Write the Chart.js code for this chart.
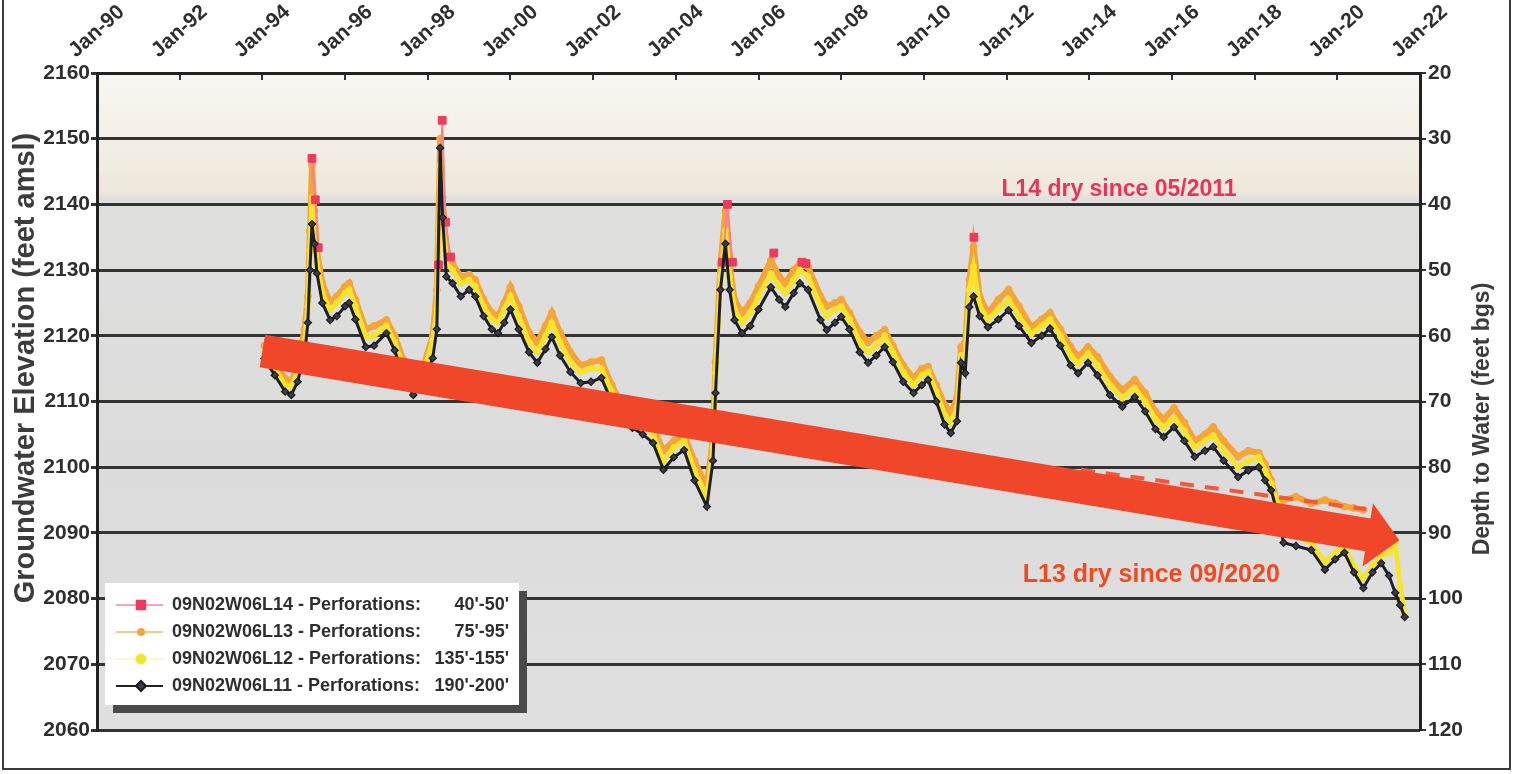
<!DOCTYPE html>
<html>
<head>
<meta charset="utf-8">
<script src="https://cdn.jsdelivr.net/npm/chart.js@4.4.1/dist/chart.umd.min.js"></script>
<style>
  html, body { margin: 0; padding: 0; background: #ffffff; }
  #wrap { width: 1514px; height: 774px; }
</style>
</head>
<body>
<div id="wrap"><canvas id="chart" width="1514" height="774"></canvas></div>
<script>
// ---- Axis ticks ----
const tickYears = [1990, 1992, 1994, 1996, 1998, 2000, 2002, 2004, 2006, 2008, 2010, 2012, 2014, 2016, 2018, 2020, 2022];
const xTickLabels = ['Jan-90', 'Jan-92', 'Jan-94', 'Jan-96', 'Jan-98', 'Jan-00', 'Jan-02', 'Jan-04', 'Jan-06',
                     'Jan-08', 'Jan-10', 'Jan-12', 'Jan-14', 'Jan-16', 'Jan-18', 'Jan-20', 'Jan-22'];
const elevationTicks = [2060, 2070, 2080, 2090, 2100, 2110, 2120, 2130, 2140, 2150, 2160];
const depthTicks = [20, 30, 40, 50, 60, 70, 80, 90, 100, 110, 120];

// ---- Wells ----
const wellIds = ['09N02W06L14', '09N02W06L13', '09N02W06L12', '09N02W06L11'];
const perforations = ["40'-50'", "75'-95'", "135'-155'", "190'-200'"];

// ---- Measurement dates (decimal years) shared by L11, L12, L13 ----
const years = [
  1994.05, 1994.30, 1994.55, 1994.70, 1994.85,
  1995.02, 1995.10, 1995.15, 1995.20, 1995.26, 1995.32, 1995.45, 1995.64, 1995.80,
  1996.00, 1996.10, 1996.25, 1996.50, 1996.70,
  1997.00, 1997.20, 1997.40, 1997.65, 1997.90,
  1998.12, 1998.22, 1998.30, 1998.36, 1998.45, 1998.60, 1998.80,
  1999.00, 1999.15, 1999.35, 1999.55, 1999.70, 1999.85,
  2000.00, 2000.20, 2000.45, 2000.65, 2000.85,
  2001.00, 2001.20, 2001.45, 2001.70, 2001.95,
  2002.20, 2002.45, 2002.70, 2002.95,
  2003.20, 2003.45, 2003.70, 2003.95,
  2004.20, 2004.45, 2004.75, 2004.90, 2004.96,
  2005.08, 2005.20, 2005.30, 2005.42, 2005.60, 2005.80,
  2006.00, 2006.30, 2006.50, 2006.65, 2006.85,
  2007.00, 2007.20, 2007.50, 2007.65, 2007.85,
  2008.00, 2008.20, 2008.45, 2008.65, 2008.85,
  2009.05, 2009.25, 2009.50, 2009.75, 2009.95,
  2010.10, 2010.30, 2010.50, 2010.65, 2010.80, 2010.90,
  2011.00, 2011.10, 2011.20, 2011.35, 2011.55, 2011.80,
  2012.05, 2012.30, 2012.60, 2012.85,
  2013.05, 2013.30, 2013.55, 2013.73, 2013.97,
  2014.20, 2014.50, 2014.80,
  2015.10, 2015.35, 2015.60, 2015.80,
  2016.05, 2016.30, 2016.55, 2016.80,
  2017.00, 2017.25, 2017.60, 2017.85,
  2018.10, 2018.25, 2018.40, 2018.55, 2018.70,
  2019.00, 2019.37, 2019.70, 2019.95,
  2020.17, 2020.40, 2020.63, 2020.85,
  2021.06, 2021.25, 2021.40, 2021.52, 2021.63
];

// Groundwater elevation, feet amsl
const l11Values = [
  2116.5, 2114.0, 2111.5, 2111.0, 2113.0,
  2117.0, 2122.0, 2130.0, 2137.0, 2134.0, 2129.5, 2125.0, 2122.4, 2123.0,
  2124.5, 2125.0, 2122.5, 2118.3, 2118.5,
  2120.4, 2117.8, 2114.0, 2111.0, 2113.0,
  2116.6, 2121.0, 2148.6, 2138.0, 2129.0, 2128.0, 2126.0,
  2127.0, 2126.0, 2123.0, 2121.0, 2120.4, 2122.0,
  2124.0, 2121.0, 2117.5, 2115.9, 2118.0,
  2119.8, 2117.0, 2114.5, 2112.8, 2113.0,
  2113.6, 2110.0, 2107.0, 2106.0,
  2105.0, 2103.7, 2099.6, 2101.5,
  2102.6, 2098.0, 2094.0, 2101.0, 2111.3,
  2127.0, 2134.0, 2127.0, 2122.4, 2120.4, 2121.5,
  2124.0, 2127.4, 2125.5, 2124.4, 2126.5,
  2128.0, 2127.0, 2122.4, 2120.9, 2122.0,
  2122.9, 2121.0, 2117.5, 2115.9, 2117.0,
  2118.3, 2116.0, 2113.0, 2111.3, 2112.5,
  2113.3, 2110.0, 2106.5, 2105.2, 2107.0, 2115.9,
  2114.3, 2124.4, 2126.0, 2123.0, 2121.3, 2122.5,
  2123.9, 2121.5, 2118.9, 2120.0,
  2121.1, 2118.5, 2115.5, 2114.3, 2115.9,
  2114.0, 2111.0, 2109.2,
  2110.7, 2108.5, 2105.8, 2104.6,
  2106.1, 2104.0, 2101.6, 2102.5,
  2103.1, 2101.0, 2098.5, 2099.5,
  2100.0, 2098.0, 2096.5, 2093.0, 2088.5,
  2088.0, 2087.4, 2084.4, 2086.0,
  2087.0, 2084.0, 2081.6, 2084.0,
  2085.4, 2083.5, 2080.9, 2079.0, 2077.2
];

const l12Values = [
  2117.5, 2115.0, 2112.5, 2112.3, 2114.5,
  2119.0, 2124.5, 2133.0, 2141.0, 2136.5, 2131.0, 2126.5, 2124.0, 2125.0,
  2126.5, 2127.0, 2124.5, 2119.8, 2120.0,
  2121.5, 2119.0, 2115.5, 2112.5, 2114.5,
  2119.3, 2124.0, 2146.0, 2139.0, 2131.0, 2130.0, 2128.0,
  2128.5, 2127.5, 2124.5, 2122.5, 2122.0, 2124.0,
  2126.0, 2123.0, 2119.0, 2117.5, 2120.0,
  2122.0, 2119.0, 2116.0, 2114.5, 2115.0,
  2115.0, 2111.5, 2108.5, 2107.5,
  2106.5, 2105.0, 2101.0, 2103.0,
  2104.0, 2099.5, 2095.5, 2103.0, 2114.3,
  2129.0, 2136.0, 2129.0, 2124.0, 2122.0, 2123.5,
  2126.0, 2129.5, 2127.5, 2126.5, 2128.5,
  2130.0, 2129.0, 2124.5, 2123.0, 2124.0,
  2124.5, 2122.5, 2119.0, 2117.5, 2118.5,
  2120.0, 2117.5, 2114.5, 2112.5, 2114.0,
  2114.5, 2111.5, 2108.0, 2106.8, 2109.0, 2117.0,
  2117.0, 2127.0, 2130.5, 2124.5, 2122.5, 2124.0,
  2125.5, 2123.0, 2120.3, 2121.5,
  2122.5, 2120.0, 2117.0, 2115.8, 2117.3,
  2115.5, 2112.5, 2110.5,
  2112.0, 2110.0, 2107.3, 2106.0,
  2107.5, 2105.5, 2103.0, 2104.0,
  2104.8, 2102.5, 2100.0, 2101.0,
  2101.5, 2099.5, 2097.5, 2094.5, 2090.0,
  2089.5, 2088.5, 2085.5, 2087.0,
  2088.0, 2085.0, 2083.0, 2085.0,
  2086.5, 2087.0, 2088.5, 2082.0, 2077.5
];

const l13Values = [
  2118.5, 2116.0, 2113.5, 2113.0, 2115.5,
  2121.0, 2126.0, 2136.0, 2146.0, 2139.0, 2133.0, 2128.0, 2125.0, 2126.0,
  2127.5, 2128.0, 2125.5, 2121.0, 2121.5,
  2122.4, 2120.0, 2116.5, 2113.5, 2115.5,
  2120.0, 2127.0, 2150.0, 2141.0, 2133.0, 2131.0, 2129.0,
  2129.3, 2128.5, 2125.5, 2123.5, 2123.0, 2125.0,
  2127.4, 2124.5, 2120.5, 2119.0, 2121.5,
  2123.5, 2120.5, 2117.5, 2115.5, 2116.0,
  2116.3, 2112.5, 2109.5, 2108.5,
  2107.5, 2106.0, 2102.5, 2104.0,
  2105.0, 2101.0, 2097.0, 2104.5, 2116.0,
  2131.0, 2139.0, 2131.0, 2125.5, 2123.5, 2125.0,
  2127.5, 2131.5, 2129.0, 2128.0, 2130.0,
  2131.0, 2130.5, 2126.0, 2124.5, 2125.0,
  2125.5, 2123.5, 2120.5, 2119.0, 2120.0,
  2120.9, 2118.5, 2115.5, 2113.5, 2115.0,
  2115.3, 2112.5, 2109.5, 2108.2, 2110.5, 2118.3,
  2119.0, 2128.5, 2133.5, 2126.0, 2123.5, 2125.5,
  2127.0, 2124.5, 2121.3, 2122.5,
  2123.5, 2121.0, 2118.3, 2116.8, 2118.3,
  2116.8, 2113.8, 2111.7,
  2113.3, 2111.3, 2108.5, 2107.3,
  2109.0, 2106.8, 2104.0, 2105.0,
  2106.1, 2104.0, 2101.6, 2102.5,
  2102.2, 2100.5, 2098.0, 2094.5, 2095.0,
  2095.5, 2094.5, 2095.0, 2094.5,
  2094.0, 2093.8, 2093.5, null,
  null, null, null, null, null
];

// L14 only holds water during the highest stands (nulls separate the events)
const l14Years  = [1995.20, 1995.28, 1995.35, 1995.45, 1998.26, 1998.35, 1998.43, 1998.55, 1998.65,
                   2005.13, 2005.25, 2005.37, 2005.50, 2006.37, 2006.50, 2007.05, 2007.15, 2007.30, 2011.21];
const l14Values = [2147.0, 2140.7, 2133.4, null, 2130.8, 2152.8, 2137.3, 2132.0, null,
                   2131.2, 2140.0, 2131.2, null, 2132.6, null, 2131.2, 2131.0, null, 2135.0];

// ---- Annotations (positions in data units) ----
const trendArrow = { from: { year: 1994.0, elev: 2117.7 }, to: { year: 2021.5, elev: 2088.9 } };
const trendDash = { from: { year: 2013.8, elev: 2099.6 }, to: { year: 2020.7, elev: 2093.6 } };
const notes = [
  { text: 'L14 dry since 05/2011', year: 2014.72, elev: 2142.2, color: '#e8335c', size: 23 },
  { text: 'L13 dry since 09/2020', year: 2015.50, elev: 2083.6, color: '#f04a1e', size: 25 }
];
const leftTitle = 'Groundwater Elevation (feet amsl)';
const rightTitle = 'Depth to Water (feet bgs)';

const FONT = '"Liberation Sans", Arial, sans-serif';

function pairs(xs, ys) {
  return xs.map((x, i) => ({ x: x, y: ys[i] }));
}

// Plot background: pale cream band at the top, light grey below
const plotBackground = {
  id: 'plotBackground',
  beforeDraw(chart) {
    const { ctx, chartArea: a } = chart;
    const ys = chart.scales.y;
    ctx.save();
    ctx.fillStyle = '#ffffff';
    ctx.fillRect(0, 0, chart.width, chart.height);
    const yBand = ys.getPixelForValue(2141.5);
    const g = ctx.createLinearGradient(0, a.top, 0, a.bottom);
    const f = (yBand - a.top) / (a.bottom - a.top);
    g.addColorStop(0, '#f8f6f1');
    g.addColorStop(f * 0.55, '#f3efe6');
    g.addColorStop(f - 0.005, '#eee7da');
    g.addColorStop(f + 0.008, '#dfdfde');
    g.addColorStop(0.6, '#dbdbdb');
    g.addColorStop(1, '#e0e0e0');
    ctx.fillStyle = g;
    ctx.fillRect(a.left, a.top, a.right - a.left, a.bottom - a.top);
    ctx.restore();
  }
};

// Trend arrow, dashed guide and notes
const trendOverlay = {
  id: 'trendOverlay',
  afterDatasetsDraw(chart) {
    const { ctx } = chart;
    const xs = chart.scales.x, ys = chart.scales.y;
    const px = p => ({ x: xs.getPixelForValue(p.year), y: ys.getPixelForValue(p.elev) });

    ctx.save();
    // dashed guide
    const d0 = px(trendDash.from), d1 = px(trendDash.to);
    ctx.strokeStyle = '#f2583c';
    ctx.lineWidth = 4;
    ctx.setLineDash([14, 11]);
    ctx.beginPath();
    ctx.moveTo(d0.x, d0.y);
    ctx.lineTo(d1.x, d1.y);
    ctx.stroke();
    ctx.setLineDash([]);

    // arrow
    const p0 = px(trendArrow.from), p1 = px(trendArrow.to);
    const dx = p1.x - p0.x, dy = p1.y - p0.y, L = Math.hypot(dx, dy);
    const ux = dx / L, uy = dy / L, nx = -uy, ny = ux;
    const shaft = 16.5, head = 32, headLen = 32;
    const bx = p1.x - ux * headLen, by = p1.y - uy * headLen;
    ctx.beginPath();
    ctx.moveTo(p0.x - nx * shaft, p0.y - ny * shaft);
    ctx.lineTo(bx - nx * shaft, by - ny * shaft);
    ctx.lineTo(bx - nx * head, by - ny * head);
    ctx.lineTo(p1.x, p1.y);
    ctx.lineTo(bx + nx * head, by + ny * head);
    ctx.lineTo(bx + nx * shaft, by + ny * shaft);
    ctx.lineTo(p0.x + nx * shaft, p0.y + ny * shaft);
    ctx.closePath();
    ctx.fillStyle = '#f0462a';
    ctx.fill();

    // notes
    ctx.textAlign = 'center';
    ctx.textBaseline = 'middle';
    notes.forEach(n => {
      const p = px(n);
      ctx.font = `bold ${n.size}px ${FONT}`;
      ctx.fillStyle = n.color;
      ctx.fillText(n.text, p.x, p.y);
    });
    ctx.restore();
  }
};

// Axis titles, legend box and outer frame
const decorations = {
  id: 'decorations',
  afterDraw(chart) {
    const { ctx } = chart;
    ctx.save();

    // axis titles
    ctx.fillStyle = '#3c3c3c';
    ctx.textAlign = 'center';
    ctx.textBaseline = 'middle';
    ctx.save();
    ctx.translate(26, 368);
    ctx.rotate(-Math.PI / 2);
    ctx.font = `bold 29px ${FONT}`;
    ctx.fillText(leftTitle, 0, 0);
    ctx.restore();
    ctx.save();
    ctx.translate(1483, 419);
    ctx.rotate(-Math.PI / 2);
    ctx.font = `bold 23px ${FONT}`;
    ctx.fillText(rightTitle, 0, 0);
    ctx.restore();

    // legend
    const lx = 105, ly = 583, lw = 414, lh = 122;
    ctx.fillStyle = '#4a4a4a';
    ctx.fillRect(lx + 8, ly + 8, lw, lh);
    ctx.fillStyle = '#ffffff';
    ctx.fillRect(lx, ly, lw, lh);
    const rowY = [605, 632, 659, 686];
    ctx.font = `bold 18px ${FONT}`;
    ctx.textBaseline = 'middle';
    chart.data.datasets.forEach((ds, i) => {
      const y = rowY[i];
      ctx.strokeStyle = ds.legendLine;
      ctx.lineWidth = ds.legendLineWidth;
      ctx.beginPath();
      ctx.moveTo(116, y);
      ctx.lineTo(163, y);
      ctx.stroke();
      ctx.fillStyle = ds.pointBackgroundColor;
      ctx.strokeStyle = ds.pointBorderColor;
      Chart.helpers.drawPoint(ctx, {
        pointStyle: ds.pointStyle, radius: ds.legendRadius, rotation: 0,
        borderWidth: ds.pointBorderWidth
      }, 141, y);
      ctx.fillStyle = '#2e2e2e';
      ctx.textAlign = 'left';
      ctx.fillText(`${wellIds[i]} - Perforations:`, 172, y);
      ctx.textAlign = 'right';
      ctx.fillText(perforations[i], 509, y);
    });

    // outer frame
    ctx.strokeStyle = '#3a3a3a';
    ctx.lineWidth = 2;
    ctx.strokeRect(3, -4, 1507, 773);
    ctx.restore();
  }
};

const ctx = document.getElementById('chart').getContext('2d');
new Chart(ctx, {
  type: 'line',
  data: {
    datasets: [
      {
        label: wellIds[0],
        data: pairs(l14Years, l14Values),
        borderColor: '#f3838e', borderWidth: 2,
        pointStyle: 'rect', pointRadius: 5.5,
        pointBackgroundColor: '#ee3a5c', pointBorderColor: '#ee3a5c', pointBorderWidth: 1,
        legendLine: '#f5a7ae', legendLineWidth: 2, legendRadius: 6,
        spanGaps: false, order: 1
      },
      {
        label: wellIds[1],
        data: pairs(years, l13Values),
        borderColor: '#f5a336', borderWidth: 6,
        pointStyle: 'circle', pointRadius: 3.5,
        pointBackgroundColor: '#f6a538', pointBorderColor: '#f6a538', pointBorderWidth: 1,
        legendLine: '#f8c98c', legendLineWidth: 2, legendRadius: 3,
        spanGaps: false, order: 3
      },
      {
        label: wellIds[2],
        data: pairs(years, l12Values),
        borderColor: '#f4e42c', borderWidth: 5,
        pointStyle: 'circle', pointRadius: 3,
        pointBackgroundColor: '#f4e42c', pointBorderColor: '#f4e42c', pointBorderWidth: 1,
        legendLine: '#f7ef9a', legendLineWidth: 1, legendRadius: 5,
        spanGaps: false, order: 2
      },
      {
        label: wellIds[3],
        data: pairs(years, l11Values),
        borderColor: '#1e1e26', borderWidth: 3,
        pointStyle: 'rectRot', pointRadius: 3.6,
        pointBackgroundColor: '#3c3c44', pointBorderColor: '#1a1a22', pointBorderWidth: 1.2,
        legendLine: '#222222', legendLineWidth: 2, legendRadius: 5,
        spanGaps: false, order: 0
      }
    ]
  },
  options: {
    responsive: false,
    animation: false,
    devicePixelRatio: 1,
    layout: { padding: { left: 0, right: 0, top: 0, bottom: 44 } },
    plugins: { legend: { display: false }, tooltip: { enabled: false }, title: { display: false } },
    elements: { line: { tension: 0 } },
    scales: {
      x: {
        type: 'linear', position: 'top', min: 1990, max: 2022,
        afterBuildTicks: s => { s.ticks = tickYears.map(v => ({ value: v })); },
        afterFit: s => { s.height = 73; s.paddingLeft = 0; s.paddingRight = 0; },
        ticks: {
          autoSkip: false, minRotation: 42, maxRotation: 42,
          labelOffset: -8, padding: 17,
          color: '#2e2e2e', font: { family: FONT, weight: 'bold', size: 21 },
          callback: (v, i) => xTickLabels[i]
        },
        grid: { drawOnChartArea: false, drawTicks: true, tickLength: -7, color: '#333333', lineWidth: 2 },
        border: { display: true, color: '#222222', width: 3 }
      },
      y: {
        type: 'linear', position: 'left', min: 2060, max: 2160,
        afterBuildTicks: s => { s.ticks = elevationTicks.map(v => ({ value: v })); },
        afterFit: s => { s.width = 97; s.paddingTop = 0; s.paddingBottom = 0; },
        ticks: {
          padding: 1, color: '#2e2e2e', font: { family: FONT, weight: 'bold', size: 21 },
          callback: v => String(v)
        },
        grid: { color: '#333333', lineWidth: 3, tickLength: 6, drawTicks: true },
        border: { display: true, color: '#222222', width: 3 }
      },
      y2: {
        type: 'linear', position: 'right', min: 20, max: 120, reverse: true,
        afterBuildTicks: s => { s.ticks = depthTicks.map(v => ({ value: v })); },
        afterFit: s => { s.width = 94; s.paddingTop = 0; s.paddingBottom = 0; },
        ticks: {
          padding: 2, color: '#2e2e2e', font: { family: FONT, weight: 'bold', size: 21 },
          callback: v => String(v)
        },
        grid: { drawOnChartArea: false, color: '#333333', lineWidth: 2, tickLength: 6 },
        border: { display: true, color: '#222222', width: 3 }
      }
    }
  },
  plugins: [plotBackground, trendOverlay, decorations]
});
</script>
</body>
</html>
